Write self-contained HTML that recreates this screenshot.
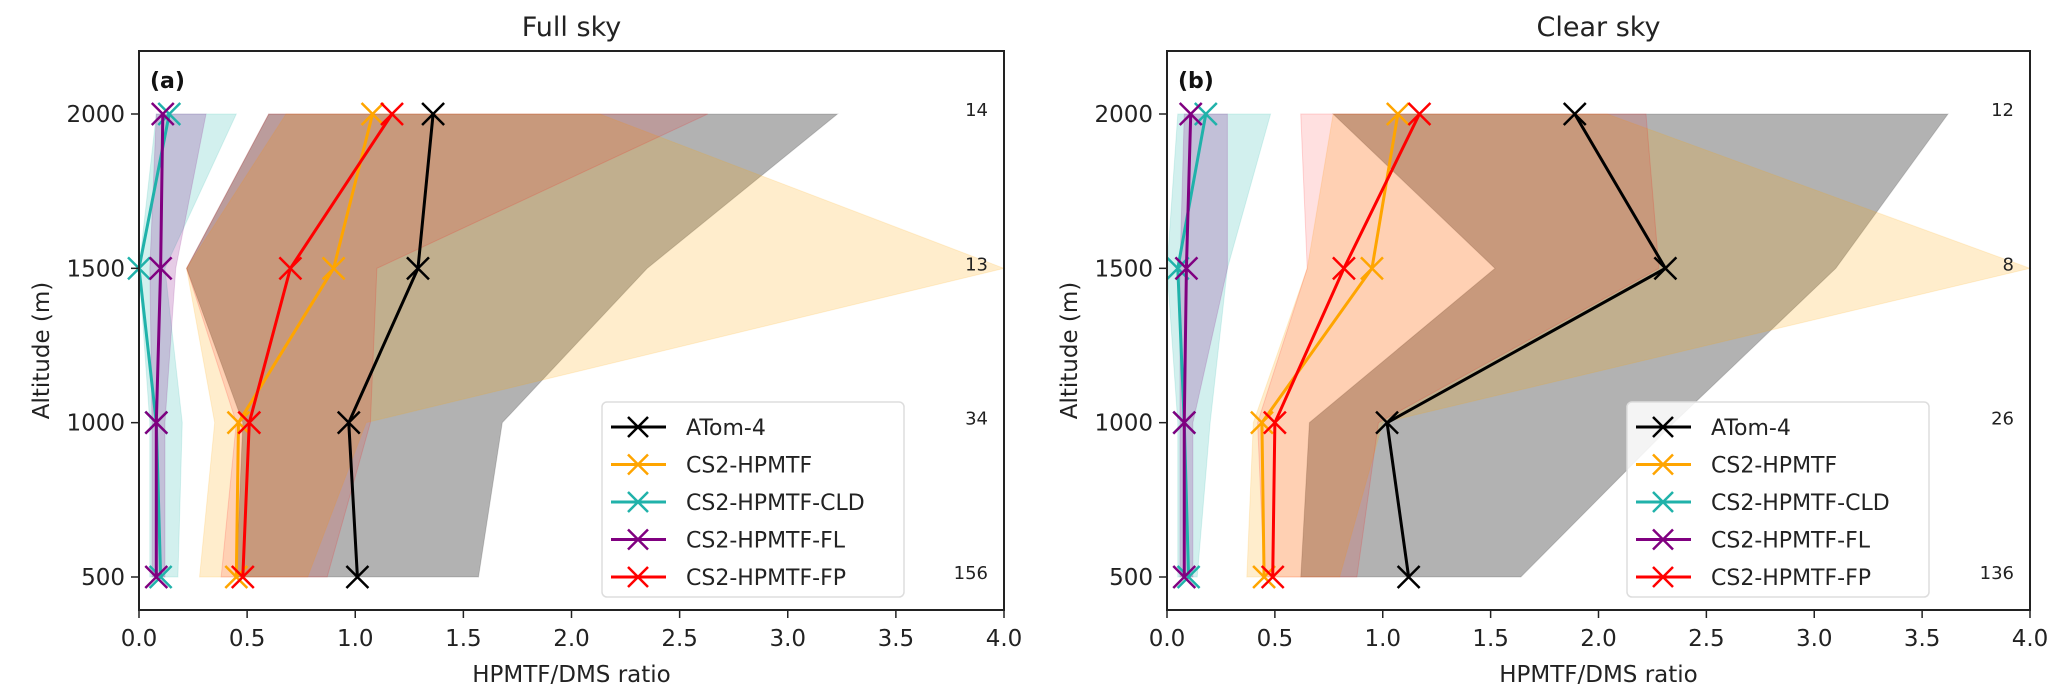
<!DOCTYPE html>
<html><head><meta charset="utf-8"><style>
html,body{margin:0;padding:0;background:#fff;}
svg{display:block;font-family:"DejaVu Sans","Liberation Sans",sans-serif;}
</style></head><body>
<svg id="chart" width="2067" height="699" viewBox="0 0 2067 699" xmlns="http://www.w3.org/2000/svg"></svg>
<script>
// ---- data ----
const altitudes = [500, 1000, 1500, 2000];
const xTicks = [0, 0.5, 1.0, 1.5, 2.0, 2.5, 3.0, 3.5, 4.0];
const seriesNames = ["ATom-4", "CS2-HPMTF", "CS2-HPMTF-CLD", "CS2-HPMTF-FL", "CS2-HPMTF-FP"];
// Full sky (a)
const fullAtom = [1.01, 0.97, 1.29, 1.36];
const fullHp = [0.45, 0.46, 0.90, 1.08];
const fullCld = [0.10, 0.08, 0.00, 0.14];
const fullFl = [0.08, 0.08, 0.10, 0.11];
const fullFp = [0.48, 0.51, 0.70, 1.17];
const fullAtomLo = [0.45, 0.48, 0.22, 0.60];
const fullAtomHi = [1.57, 1.68, 2.35, 3.23];
const fullHpLo = [0.28, 0.35, 0.22, 0.68];
const fullHpHi = [0.78, 1.05, 4.00, 2.13];
const fullCldLo = [0.05, 0.05, 0.00, 0.08];
const fullCldHi = [0.18, 0.20, 0.12, 0.45];
const fullFlLo = [0.06, 0.06, 0.05, 0.08];
const fullFlHi = [0.12, 0.12, 0.17, 0.31];
const fullFpLo = [0.38, 0.45, 0.22, 0.60];
const fullFpHi = [0.87, 1.07, 1.10, 2.63];
const fullCounts = ["156", "34", "13", "14"];
// Clear sky (b)
const clearAtom = [1.12, 1.02, 2.31, 1.89];
const clearHp = [0.45, 0.44, 0.95, 1.07];
const clearCld = [0.10, 0.08, 0.05, 0.18];
const clearFl = [0.08, 0.08, 0.09, 0.11];
const clearFp = [0.49, 0.50, 0.82, 1.17];
const clearAtomLo = [0.62, 0.66, 1.52, 0.77];
const clearAtomHi = [1.64, 2.35, 3.10, 3.62];
const clearHpLo = [0.37, 0.40, 0.65, 0.77];
const clearHpHi = [0.80, 1.00, 4.00, 2.04];
const clearCldLo = [0.05, 0.05, 0.00, 0.05];
const clearCldHi = [0.14, 0.20, 0.28, 0.48];
const clearFlLo = [0.06, 0.06, 0.06, 0.08];
const clearFlHi = [0.12, 0.12, 0.28, 0.28];
const clearFpLo = [0.45, 0.42, 0.65, 0.62];
const clearFpHi = [0.88, 0.98, 2.28, 2.22];
const clearCounts = ["136", "26", "8", "12"];

const colors = ["#000000", "#ffa500", "#20b2aa", "#800080", "#ff0000"];
const fillOp = [0.3, 0.2, 0.2, 0.2, 0.12];
const NS = "http://www.w3.org/2000/svg";
const svg = document.getElementById("chart");
function mk(tag, attrs, parent) {
  const e = document.createElementNS(NS, tag);
  for (const k in attrs) e.setAttribute(k, attrs[k]);
  (parent || svg).appendChild(e);
  return e;
}

function panel(cfg) {
  const L = cfg.left, R = cfg.right, T = 51, B = 610;
  const xs = v => L + (v / 4) * (R - L);
  const ys = a => 114 + (2000 - a) * (463 / 1500);
  const g = mk("g", {});
  
  

  const title = mk("text", {x: (L + R) / 2, y: 36, "text-anchor": "middle", "font-size": 27, fill: "#222"}, g);
  title.textContent = cfg.title;
  
  

  cfg.lo.forEach((lo, s) => {
    const hi = cfg.hi[s];
    let pts = altitudes.map((a, i) => xs(lo[i]) + "," + ys(a));
    pts = pts.concat(altitudes.slice().reverse().map((a, j) => { const i = altitudes.length - 1 - j; return xs(hi[i]) + "," + ys(a); }));
    const p = mk("polygon", {points: pts.join(" "), fill: colors[s], "fill-opacity": fillOp[s], stroke: colors[s], "stroke-opacity": 0.15}, g);
    
    
  });
  cfg.vals.forEach((v, s) => {
    const pl = mk("polyline", {points: altitudes.map((a, i) => xs(v[i]) + "," + ys(a)).join(" "), fill: "none", stroke: colors[s], "stroke-width": 3}, g);
    
    
    altitudes.forEach((a, i) => {
      const cx = xs(v[i]), cy = ys(a), r = 11;
      const m = mk("path", {d: `M${cx - r},${cy - r}L${cx + r},${cy + r}M${cx - r},${cy + r}L${cx + r},${cy - r}`, stroke: colors[s], "stroke-width": 2.5}, g);
      
      
    });
  });
  const fr = mk("rect", {x: L, y: T, width: R - L, height: B - T, fill: "none", stroke: "#222", "stroke-width": 2}, g);
  
  
  xTicks.forEach(t => {
    const x = xs(t);
    mk("line", {x1: x, x2: x, y1: B, y2: B + 8, stroke: "#222", "stroke-width": 1.5}, g);
    const tx = mk("text", {x: x, y: B + 36, "text-anchor": "middle", "font-size": 23, fill: "#222"}, g);
    tx.textContent = t.toFixed(1);
    
    
  });
  altitudes.forEach((a, i) => {
    const y = ys(a);
    mk("line", {x1: L - 8, x2: L, y1: y, y2: y, stroke: "#222", "stroke-width": 1.5}, g);
    const ty = mk("text", {x: L - 14, y: y + 8, "text-anchor": "end", "font-size": 23, fill: "#222"}, g);
    ty.textContent = String(a);
    
    
    const c = mk("text", {x: R - 16, y: y + 2, "text-anchor": "end", "font-size": 18, fill: "#222"}, g);
    c.textContent = cfg.counts[i];
    
    
  });
  const xl = mk("text", {x: (L + R) / 2, y: 682, "text-anchor": "middle", "font-size": 23, fill: "#222"}, g);
  xl.textContent = "HPMTF/DMS ratio";
  
  
  const yl = mk("text", {x: 0, y: 0, "text-anchor": "middle", "font-size": 23, fill: "#222", transform: `translate(${L - 90},${(T + B) / 2 + 20}) rotate(-90)`}, g);
  yl.textContent = "Altitude (m)";
  
  
  const pl = mk("text", {x: L + 11, y: 88, "font-size": 22, "font-weight": "bold", fill: "#111"}, g);
  pl.textContent = cfg.label;
  
  
  const lx = cfg.legX, ly = 402;
  const lg = mk("g", {}, g);
  
  
  mk("rect", {x: lx, y: ly, width: 302, height: 195, rx: 5, fill: "#fff", "fill-opacity": 0.85, stroke: "#ddd", "stroke-width": 1.5}, lg);
  seriesNames.forEach((n, s) => {
    const y = ly + 25 + s * 37.5;
    const e = mk("g", {}, lg);
    
    
    mk("line", {x1: lx + 9, x2: lx + 64, y1: y, y2: y, stroke: colors[s], "stroke-width": 3}, e);
    const cx = lx + 36, r = 10;
    mk("path", {d: `M${cx - r},${y - r}L${cx + r},${y + r}M${cx - r},${y + r}L${cx + r},${y - r}`, stroke: colors[s], "stroke-width": 2.5}, e);
    const t = mk("text", {x: lx + 84, y: y + 8, "font-size": 22, fill: "#222"}, e);
    t.textContent = n;
  });
}

panel({name: "panel-full-sky", title: "Full sky", label: "(a)", left: 139, right: 1004, legX: 602,
  vals: [fullAtom, fullHp, fullCld, fullFl, fullFp],
  lo: [fullAtomLo, fullHpLo, fullCldLo, fullFlLo, fullFpLo],
  hi: [fullAtomHi, fullHpHi, fullCldHi, fullFlHi, fullFpHi], counts: fullCounts});
panel({name: "panel-clear-sky", title: "Clear sky", label: "(b)", left: 1167, right: 2030, legX: 1627,
  vals: [clearAtom, clearHp, clearCld, clearFl, clearFp],
  lo: [clearAtomLo, clearHpLo, clearCldLo, clearFlLo, clearFpLo],
  hi: [clearAtomHi, clearHpHi, clearCldHi, clearFlHi, clearFpHi], counts: clearCounts});
</script>
</body></html>
